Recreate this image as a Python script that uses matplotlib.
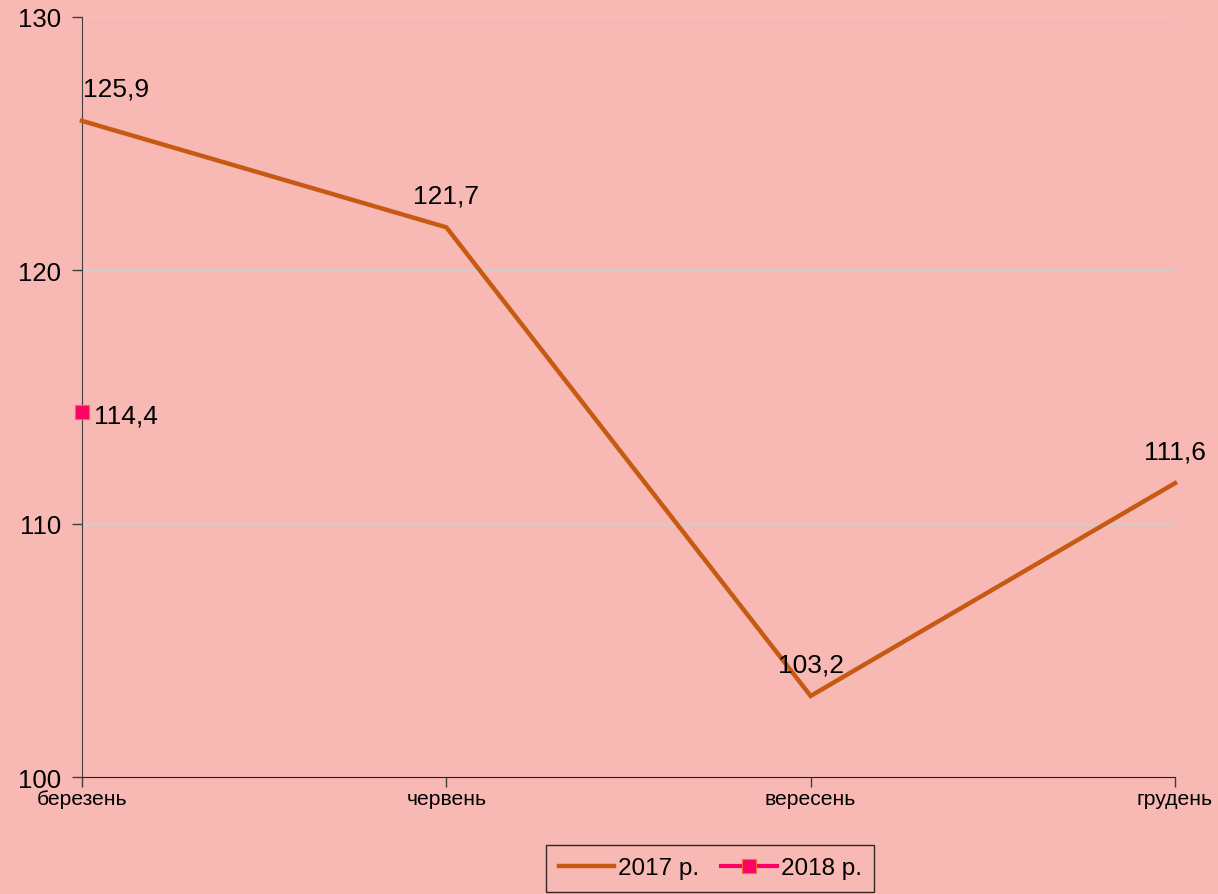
import matplotlib.pyplot as plt
from matplotlib.lines import Line2D

plt.rcParams['font.family'] = ['Liberation Sans', 'DejaVu Sans']

# -------------------------------------------
months = ['березень', 'червень', 'вересень', 'грудень']
values_2017 = [125.9, 121.7, 103.2, 111.6]
values_2018 = [114.4]
y_ticks = [100, 110, 120, 130]

bg = '#F8B8B3'
line_2017 = '#C65A12'
line_2018 = '#FF0066'

fig = plt.figure(figsize=(12.18, 8.95), dpi=100, facecolor=bg)
ax = fig.add_axes([0.0673, 0.1307, 0.8974, 0.8492], facecolor=bg)

x = list(range(len(months)))
ax.plot(x, values_2017, color=line_2017, lw=3.2, solid_joinstyle='miter', zorder=3, clip_on=False)
ax.plot(x[:len(values_2018)], values_2018, color=line_2018, lw=3, marker='s', ms=10,
        mfc=line_2018, mec='#F07030', mew=0.8, zorder=4, clip_on=False)

# data labels
for i, v in enumerate(values_2017):
    dx = 1 if i == 0 else 0
    ha = 'left' if i == 0 else 'center'
    ax.annotate(f'{v:.1f}'.replace('.', ','), (i, v), xytext=(dx, 23), textcoords='offset points',
                ha=ha, va='center', fontsize=19)
for i, v in enumerate(values_2018):
    ax.annotate(f'{v:.1f}'.replace('.', ','), (i, v), xytext=(9, -2.5), textcoords='offset points',
                ha='left', va='center', fontsize=19)

ax.set_xlim(0, len(months) - 1)
ax.set_ylim(100, 130)
ax.set_yticks(y_ticks)
ax.set_yticklabels([str(t) for t in y_ticks], fontsize=18.5)
ax.set_xticks(x)
ax.set_xticklabels(months, fontsize=15.2)

ax.grid(axis='y', color='#D0D0D0', lw=1)
ax.set_axisbelow(True)
for s in ['top', 'right']:
    ax.spines[s].set_visible(False)
ax.spines['left'].set_color('#404040')
ax.spines['bottom'].set_color('#202020')
ax.tick_params(axis='y', length=7, width=1, color='#404040', pad=8)
ax.tick_params(axis='x', length=7, width=1, color='#404040', pad=1.5)

handles = [
    Line2D([], [], color=line_2017, lw=3.2),
    Line2D([], [], color=line_2018, lw=3, marker='s', ms=10, mfc=line_2018, mec='#F07030', mew=0.8),
]
leg = fig.legend(handles, ['2017 р.', '2018 р.'], loc='lower center', bbox_to_anchor=(0.583, 0.0),
                 ncol=2, fontsize=17.5, frameon=True, fancybox=False, edgecolor='black',
                 facecolor=bg, handlelength=2.3, handletextpad=0.15, columnspacing=0.9,
                 borderpad=0.5, borderaxespad=0.1)
leg.get_frame().set_linewidth(1)

fig.savefig('out.png', dpi=100, facecolor=bg)
